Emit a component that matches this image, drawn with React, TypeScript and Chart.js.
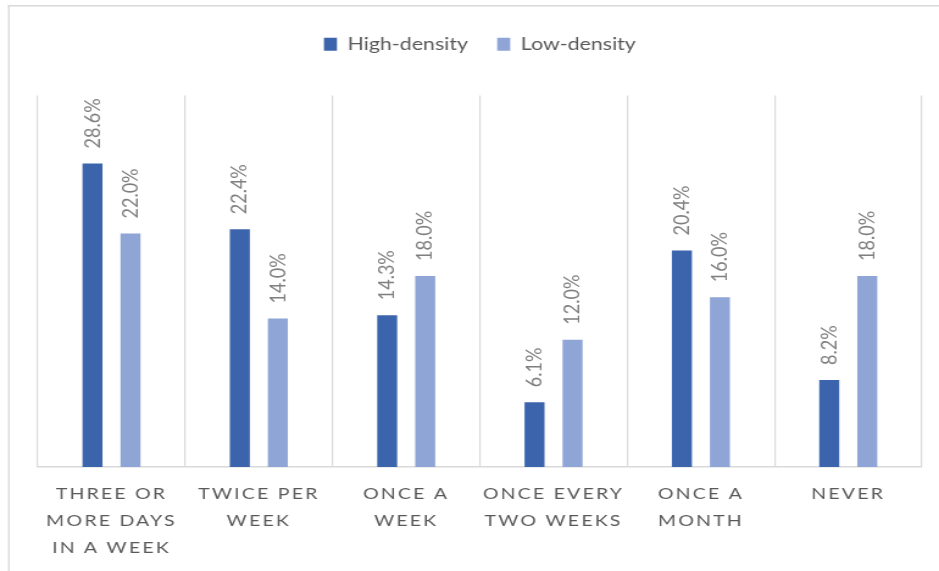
import React, { useEffect, useRef } from 'react';
import { Chart, registerables } from 'chart.js';

Chart.register(...registerables);

// ---- data ----
const categories: string[][] = [
  ['THREE OR', 'MORE DAYS', 'IN A WEEK'],
  ['TWICE PER', 'WEEK'],
  ['ONCE A', 'WEEK'],
  ['ONCE EVERY', 'TWO WEEKS'],
  ['ONCE A', 'MONTH'],
  ['NEVER'],
];
const highDensity = [28.6, 22.4, 14.3, 6.1, 20.4, 8.2];
const lowDensity = [22.0, 14.0, 18.0, 12.0, 16.0, 18.0];
const seriesNames = ['High-density', 'Low-density'];
const seriesColors = ['#3B64AD', '#8FA5D6'];
const yMin = 0;
const yMax = 35;

// The reference is horizontally stretched; draw narrower and stretch with CSS.
const OUT_W = 939;
const OUT_H = 571;
const CHART_W = 770;
const STRETCH = OUT_W / CHART_W;
const FONT = 'Lato, "Noto Sans", sans-serif';

const framePlugin = {
  id: 'frame',
  beforeDraw(chart: any) {
    const ctx = chart.ctx;
    ctx.save();
    ctx.fillStyle = '#d9d9d9';
    const x0 = 8 / STRETCH;
    ctx.fillRect(x0, 5, chart.width, 1.5);
    ctx.fillRect(x0, 5, 1.6 / STRETCH, chart.height);
    ctx.restore();
  },
};

const legendSpacePlugin = {
  id: 'legendSpace',
  beforeLayout(chart: any) {
    const lg = chart.legend;
    if (lg && !lg.__patched) {
      const origFit = lg.fit;
      lg.fit = function () {
        origFit.call(this);
        this.height += 32.5;
      };
      lg.__patched = true;
    }
  },
};

const letterSpacingPlugin = {
  id: 'xLetterSpacing',
  beforeDraw(chart: any) {
    const sc = chart.scales.x;
    if (sc && !sc.__ls) {
      const orig = sc.drawLabels;
      sc.drawLabels = function (area: any) {
        const ctx = this.ctx;
        ctx.save();
        (ctx as any).letterSpacing = '1.8px';
        orig.call(this, area);
        ctx.restore();
      };
      sc.__ls = true;
    }
  },
};

const dataLabelPlugin = {
  id: 'dataLabels',
  afterDatasetsDraw(chart: any) {
    const ctx = chart.ctx;
    ctx.save();
    ctx.font = `18px ${FONT}`;
    ctx.fillStyle = '#7f7f7f';
    ctx.textAlign = 'left';
    ctx.textBaseline = 'middle';
    chart.data.datasets.forEach((ds: any, di: number) => {
      const meta = chart.getDatasetMeta(di);
      meta.data.forEach((el: any, i: number) => {
        const v = ds.data[i] as number;
        ctx.save();
        ctx.translate(el.x, el.y - 15);
        ctx.rotate(-Math.PI / 2);
        ctx.fillText(v.toFixed(1) + '%', 0, 0);
        ctx.restore();
      });
    });
    ctx.restore();
  },
};

export default function App() {
  const canvasRef = useRef<HTMLCanvasElement | null>(null);

  useEffect(() => {
    document.body.style.margin = '0';
    const canvas = canvasRef.current;
    if (!canvas) return;
    const chart = new Chart(canvas, {
      type: 'bar',
      data: {
        labels: categories,
        datasets: [
          {
            label: seriesNames[0],
            data: highDensity,
            backgroundColor: seriesColors[0],
            barPercentage: 0.526,
            categoryPercentage: 0.516,
          },
          {
            label: seriesNames[1],
            data: lowDensity,
            backgroundColor: seriesColors[1],
            barPercentage: 0.526,
            categoryPercentage: 0.516,
          },
        ],
      },
      options: {
        responsive: false,
        devicePixelRatio: 1,
        animation: false,
        layout: { padding: { top: 11.5, left: 31, right: 14, bottom: -3 } },
        plugins: {
          legend: {
            position: 'top',
            align: 'center',
            labels: {
              font: { family: FONT, size: 17.5 },
              color: '#595959',
              boxWidth: 13 / STRETCH,
              boxHeight: 13,
              padding: 24,
            },
          },
          tooltip: { enabled: false },
        },
        scales: {
          x: {
            grid: { color: '#d9d9d9', lineWidth: 1.2, drawTicks: false, offset: true },
            border: { color: '#d9d9d9', width: 1.5 },
            ticks: {
              font: { family: FONT, size: 16, lineHeight: 27 / 16 },
              color: '#595959',
              padding: 13,
              maxRotation: 0,
              minRotation: 0,
              autoSkip: false,
            },
          },
          y: { display: false, min: yMin, max: yMax },
        },
      },
      plugins: [framePlugin, legendSpacePlugin, letterSpacingPlugin, dataLabelPlugin],
    } as any);
    return () => {
      chart.destroy();
    };
  }, []);

  return (
    <div style={{ position: 'absolute', left: 0, top: 0, width: OUT_W, height: OUT_H, background: '#fff' }}>
      <canvas
        ref={canvasRef}
        width={CHART_W}
        height={OUT_H}
        style={{ width: OUT_W + 'px', height: OUT_H + 'px', display: 'block' }}
      />
    </div>
  );
}
